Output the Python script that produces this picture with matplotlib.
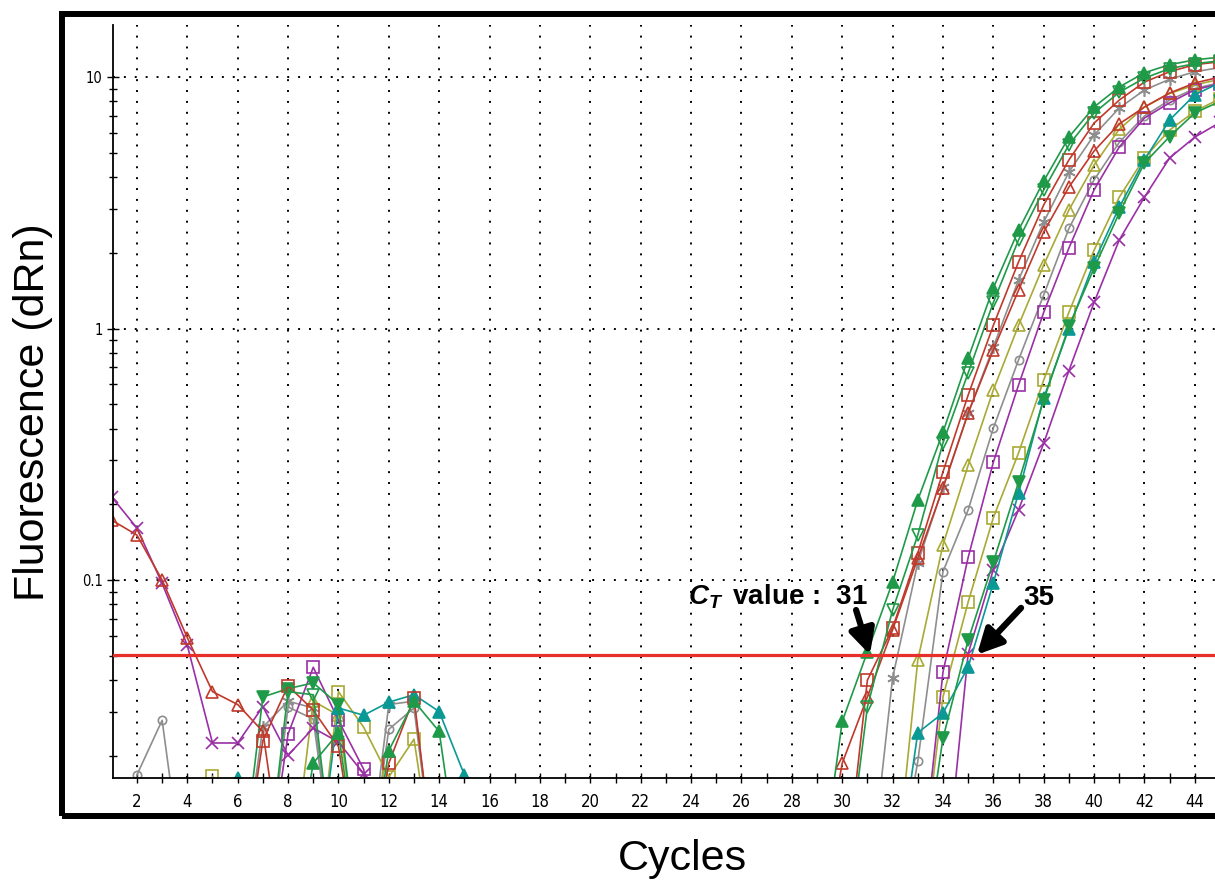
import matplotlib
matplotlib.use("Agg")
import matplotlib.pyplot as plt
from matplotlib.patches import Rectangle
from matplotlib.ticker import MultipleLocator, LogLocator, FixedFormatter, FixedLocator
import numpy as np

# below the visible floor of the log axis (baseline subtracted noise)
L = 0.005

cycles = list(range(1, 46))
threshold = 0.0505

g1 = [L, L, L, L, L, L, L, L, 0.0187, 0.0247, L, 0.021, 0.033, 0.025, L,
      L, L, L, L, L, L, L, L, L, L, L, L, L, L,
      0.0274, 0.0518, 0.0982, 0.208, 0.387, 0.762, 1.45, 2.46, 3.86, 5.77, 7.60, 9.13, 10.4, 11.2, 11.7, 12.0]
g2 = [L, L, L, L, L, L, L, 0.036, 0.035, L, L, L, L, L, L,
      L, L, L, L, L, L, L, L, L, L, L, L, L, L,
      L, 0.0313, 0.076, 0.151, 0.351, 0.666, 1.27, 2.25, 3.56, 5.37, 7.19, 8.7, 9.9, 10.8, 11.3, 11.6]
r1 = [L, L, L, L, L, L, 0.023, 0.038, 0.0304, 0.0218, L, 0.0187, 0.034, L, L,
      L, L, L, L, L, L, L, L, L, L, L, L, L, L,
      L, 0.040, 0.0644, 0.128, 0.269, 0.544, 1.03, 1.84, 3.10, 4.68, 6.56, 8.1, 9.55, 10.5, 11.2, 11.5]
r2 = [0.173, 0.151, 0.100, 0.059, 0.036, 0.032, 0.025, L, L, L, L, L, L, L, L,
      L, L, L, L, L, L, L, L, L, L, L, L, L, L,
      0.0187, 0.0343, 0.0634, 0.122, 0.232, 0.461, 0.822, 1.42, 2.42, 3.65, 5.08, 6.51, 7.6, 8.64, 9.47, 10.0]
gy1 = [L, L, L, L, L, L, 0.026, 0.033, 0.031, L, L, 0.032, 0.033, L, L,
       L, L, L, L, L, L, L, L, L, L, L, L, L, L,
       L, L, 0.0408, 0.117, 0.234, 0.461, 0.844, 1.56, 2.65, 4.19, 5.88, 7.53, 8.88, 9.8, 10.5, 10.9]
gy2 = [L, 0.0168, 0.0277, L, L, L, L, 0.0313, 0.028, L, L, 0.0255, 0.031, L, L,
       L, L, L, L, L, L, L, L, L, L, L, L, L, L,
       L, L, L, 0.019, 0.108, 0.19, 0.402, 0.75, 1.36, 2.5, 3.9, 5.5, 7.0, 8.1, 9.0, 9.5]
o1 = [L, L, L, L, L, L, L, L, 0.033, 0.029, L, L, L, L, L,
      L, L, L, L, L, L, L, L, L, L, L, L, L, L,
      L, L, L, 0.048, 0.138, 0.286, 0.57, 1.03, 1.79, 2.96, 4.47, 6.2, 7.6, 8.6, 9.3, 9.8]
p1 = [L, L, L, L, L, L, L, 0.0244, 0.045, 0.0277, 0.0177, L, L, L, L,
      L, L, L, L, L, L, L, L, L, L, L, L, L, L,
      L, L, L, L, 0.043, 0.123, 0.294, 0.596, 1.16, 2.09, 3.56, 5.27, 6.87, 7.9, 8.9, 9.4]
o2 = [L, L, L, L, 0.0166, L, L, L, L, 0.036, 0.026, 0.0165, 0.0233, L, L,
      L, L, L, L, L, L, L, L, L, L, L, L, L, L,
      L, L, L, L, 0.0343, 0.0818, 0.177, 0.32, 0.624, 1.16, 2.05, 3.33, 4.77, 6.16, 7.3, 8.2]
g3 = [L, L, L, L, L, L, 0.0343, 0.037, 0.039, 0.032, L, L, L, L, L,
      L, L, L, L, L, L, L, L, L, L, L, L, L, L,
      L, L, L, L, 0.0235, 0.0577, 0.118, 0.245, 0.52, 1.02, 1.74, 2.88, 4.55, 5.8, 7.2, 8.0]
t1 = [L, L, L, L, L, 0.0163, L, L, L, 0.031, 0.029, 0.0327, 0.035, 0.030, 0.0168,
      L, L, L, L, L, L, L, L, L, L, L, L, L, L,
      L, L, L, 0.0247, 0.0296, 0.0451, 0.0973, 0.222, 0.53, 1.0, 1.84, 3.04, 4.68, 6.75, 8.5, 9.5]
p2 = [0.214, 0.161, 0.097, 0.055, 0.0225, 0.0225, 0.0314, 0.0201, 0.0258, 0.0227, 0.017, L, L, L, L,
      L, L, L, L, L, L, L, L, L, L, L, L, L, L,
      L, L, L, L, L, 0.051, 0.11, 0.19, 0.35, 0.68, 1.27, 2.25, 3.33, 4.77, 5.77, 6.6]

green = "#1f9a48"
red = "#c0392b"
purple = "#9a2fa6"
gray = "#8e8e8e"
olive = "#a9a935"
teal = "#0b9995"

# (values, colour, marker, filled, size)
series = [
    (gy2, gray, "o", False, 6),
    (gy1, gray, (6, 2, 0), False, 9),
    (o1, olive, "^", False, 9),
    (o2, olive, "s", False, 8),
    (p1, purple, "s", False, 8),
    (p2, purple, "x", False, 9),
    (t1, teal, "^", True, 8),
    (g3, green, "v", True, 8),
    (r2, red, "^", False, 9),
    (r1, red, "s", False, 8),
    (g2, green, "v", False, 8),
    (g1, green, "^", True, 8),
]

plt.rcParams["font.family"] = ["Liberation Sans", "DejaVu Sans"]
plt.rcParams["mathtext.fontset"] = "custom"
plt.rcParams["mathtext.rm"] = "Liberation Sans:bold"
plt.rcParams["mathtext.it"] = "Liberation Sans:italic:bold"
plt.rcParams["mathtext.bf"] = "Liberation Sans:bold"

fig = plt.figure(figsize=(12.15, 8.84), dpi=100)
ax = fig.add_axes([113 / 1215, 106 / 884, 1 - 113 / 1215, (778 - 25) / 884])

for vals, col, mk, filled, ms in series:
    ax.plot(cycles, vals, color=col, lw=1.2, marker=mk, ms=ms, mew=1.2,
            mfc=col if filled else "none", mec=col)

ax.axhline(threshold, color="#e8302a", lw=2.3, zorder=5)

ax.set_yscale("log")
ax.set_xlim(1.05, 44.8)
ax.set_ylim(0.01633, 16.1)

ax.xaxis.set_major_locator(MultipleLocator(2))
ax.xaxis.set_minor_locator(MultipleLocator(1))
ax.yaxis.set_major_locator(FixedLocator([0.1, 1, 10]))
ax.yaxis.set_major_formatter(FixedFormatter(["0.1", "1", "10"]))
ax.yaxis.set_minor_locator(LogLocator(base=10, subs=np.arange(2, 10)))
ax.yaxis.set_minor_formatter(FixedFormatter([]))

ax.tick_params(axis="both", which="both", direction="inout", width=1.0, colors="black")
ax.tick_params(axis="x", which="both", length=7, pad=7)
ax.tick_params(axis="y", which="major", length=9, pad=3)
ax.tick_params(axis="y", which="minor", length=6)
for lab in ax.get_xticklabels():
    lab.set_fontfamily(["Liberation Sans Narrow", "DejaVu Sans"])
    lab.set_fontstretch("condensed")
    lab.set_fontsize(12)
for lab in ax.get_yticklabels():
    lab.set_fontfamily(["Liberation Sans Narrow", "DejaVu Sans"])
    lab.set_fontstretch("condensed")
    lab.set_fontsize(10.5)

ax.grid(True, which="major", color="black", lw=1.4, linestyle=(0, (1, 4.6)))
ax.set_axisbelow(True)
for s in ["top", "right"]:
    ax.spines[s].set_visible(False)
ax.spines["left"].set_linewidth(1.3)
ax.spines["bottom"].set_linewidth(1.3)

# C_T annotations
ax.text(31.0, 0.0796, r"$C_T\,$ value :  31", fontsize=20, fontweight="bold",
        ha="right", va="baseline", zorder=6)
ax.text(37.8, 0.0796, "35", fontsize=20, fontweight="bold",
        ha="center", va="baseline", zorder=6)
arrow = dict(arrowstyle="-|>,head_length=0.75,head_width=0.38", color="black",
             lw=4.5, mutation_scale=20, shrinkA=0, shrinkB=0)
ax.annotate("", xy=(31.1, 0.0505), xytext=(30.55, 0.0760), arrowprops=arrow, zorder=6)
ax.annotate("", xy=(35.35, 0.0505), xytext=(37.1, 0.0775), arrowprops=arrow, zorder=6)

# outer frame
fig.patches.append(Rectangle((62 / 1215, 68.5 / 884), 1.2, (869.5 - 68.5) / 884,
                             transform=fig.transFigure, fill=False,
                             edgecolor="black", lw=4.3, clip_on=False))

fig.text(0.027, 0.534, "Fluorescence (dRn)", rotation=90, fontsize=31,
         ha="center", va="center")
fig.text(0.562, 0.028, "Cycles", fontsize=31, ha="center", va="center")

fig.savefig("out.png", dpi=100)
